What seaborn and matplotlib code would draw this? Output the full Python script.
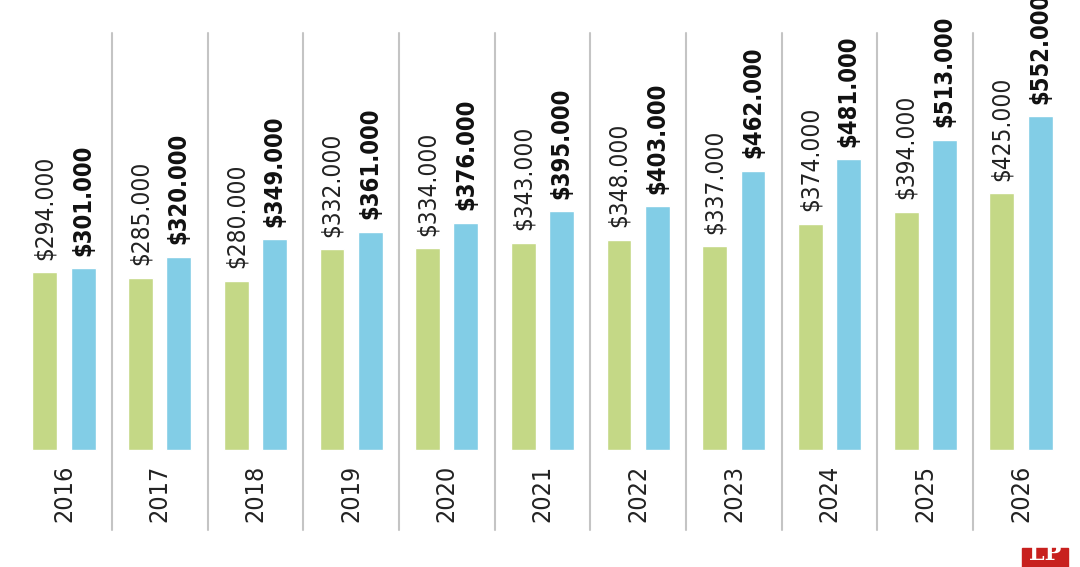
import matplotlib
matplotlib.use("Agg")
import matplotlib.pyplot as plt
import seaborn as sns
import pandas as pd
from matplotlib.patches import Rectangle

years = ["2016", "2017", "2018", "2019", "2020", "2021", "2022", "2023", "2024", "2025", "2026"]
green_vals = [294, 285, 280, 332, 334, 343, 348, 337, 374, 394, 425]
blue_vals = [301, 320, 349, 361, 376, 395, 403, 462, 481, 513, 552]
series_names = ["A", "B"]

GREEN = "#c4d886"
BLUE = "#82cde6"

sns.set_theme(style="white")
plt.rcParams['font.family'] = ['DejaVu Sans']

df = pd.DataFrame({
    "year": years * 2,
    "value": green_vals + blue_vals,
    "series": [series_names[0]] * len(years) + [series_names[1]] * len(years),
})

fig = plt.figure(figsize=(10.8, 5.67), dpi=100)
ax = fig.add_axes([0, 0, 1, 1])
sns.barplot(data=df, x="year", y="value", hue="series", order=years,
            hue_order=series_names, palette=[GREEN, BLUE], width=0.8, gap=0.35,
            saturation=1, legend=False, ax=ax, errorbar=None)
ax.set_xlim(-0.669, 10.617)
ax.set_ylim(-193, 744)
ax.axis("off")

for i in range(len(years) - 1):
    ax.plot([i + 0.5, i + 0.5], [-132, 689], color="#c4c4c4", lw=1.5, zorder=0)

for i, (g, b) in enumerate(zip(green_vals, blue_vals)):
    ax.annotate(f"${g}.000", (i - 0.2, g), xytext=(0, 9), textcoords="offset points",
                rotation=90, ha="center", va="bottom", fontsize=17.5, color="#222222",
                fontstretch="condensed")
    ax.annotate(f"${b}.000", (i + 0.2, b), xytext=(0, 9), textcoords="offset points",
                rotation=90, ha="center", va="bottom", fontsize=17, color="#111111",
                fontweight="bold", fontstretch="condensed")
    ax.text(i, -71, years[i], rotation=90, ha="center", va="center",
            fontsize=18, color="#222222", fontstretch="condensed")

fig.patches.append(Rectangle((1022 / 1080, 0), 46 / 1080, 19 / 567,
                             transform=fig.transFigure, color="#c8201e", zorder=5))
fig.text(1045 / 1080, 0.004, "LP", ha="center", va="bottom", color="white",
         fontsize=16, fontweight="bold", family="DejaVu Serif", zorder=6)

fig.savefig("out.png", dpi=100)
